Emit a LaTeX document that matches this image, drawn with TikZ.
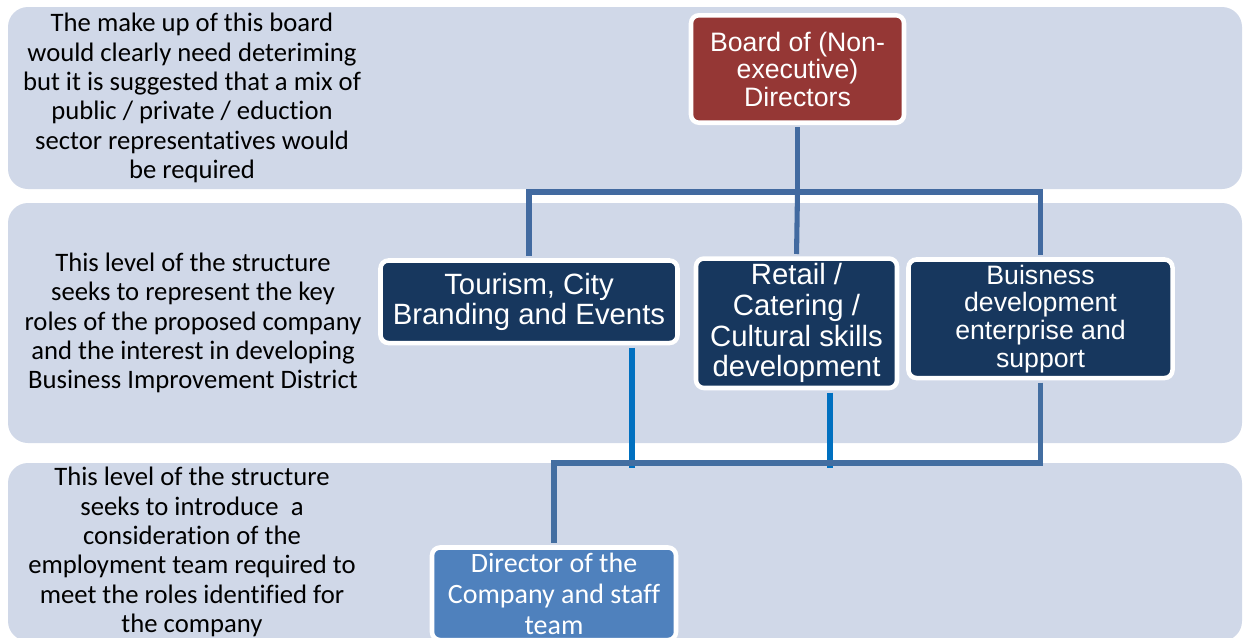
\documentclass[tikz,border=0pt]{standalone}
\usepackage{fontspec}
\setmainfont{Carlito}[Ligatures=NoCommon]
\newfontfamily\arialf{Liberation Sans}
\definecolor{bandc}{RGB}{208,216,232}
\definecolor{redc}{RGB}{149,55,53}
\definecolor{navyc}{RGB}{23,55,94}
\definecolor{dirc}{RGB}{79,129,189}
\definecolor{connc}{RGB}{66,106,160}
\definecolor{brightc}{RGB}{0,112,192}
\tikzset{
  band/.style={fill=bandc, rounded corners=15pt},
  lefttext/.style={align=center, inner sep=0pt, text=black, font=\fontsize{20}{22}\selectfont},
  box/.style={draw=white, line width=3.4pt, rounded corners=6pt, align=center, inner sep=0pt, text=white},
  conn/.style={draw=connc, line width=3.8pt},
  bright/.style={draw=brightc, line width=4.5pt},
}
\begin{document}
\begin{tikzpicture}[x=0.75pt,y=-0.75pt]
\useasboundingbox (0,0) rectangle (1248,637);
\clip (0,0) rectangle (1248,637);
\fill[white] (0,0) rectangle (1248,637);
% bands
\fill[band] (8,7) rectangle (1242,189);
\fill[band] (8,203) rectangle (1242,443);
\fill[band] (8,463) rectangle (1242,641);
% left texts
\node[lefttext] (t1) at (192,98) {The make up of this board\\would clearly need deteriming\\but it is suggested that a mix of\\public / private / eduction\\sector representatives would\\be required};
\node[lefttext] (t2) at (193,323) {This level of the structure\\seeks to represent the key\\roles of the proposed company\\and the interest in developing\\Business Improvement District};
\node[lefttext] (t3) at (192,552) {This level of the structure\\seeks to introduce\ \ a\\consideration of the\\employment team required to\\meet the roles identified for\\the company};
% nodes
\node[box, fill=redc, minimum width=159.75pt, minimum height=80.6pt, font=\arialf\fontsize{20}{20.6}\selectfont] (board) at (797.5,69) {Board of (Non-\\executive)\\Directors};
\node[box, fill=navyc, minimum width=222.75pt, minimum height=61.9pt, font=\arialf\fontsize{22}{22.5}\selectfont] (tour) at (529,301.75) {Tourism, City\\Branding and Events};
\node[box, fill=navyc, minimum width=150.75pt, minimum height=97.1pt, font=\arialf\fontsize{22}{23}\selectfont] (ret) at (796.5,323.25) {Retail /\\Catering /\\Cultural skills\\development};
\node[box, fill=navyc, minimum width=198pt, minimum height=88.9pt, font=\arialf\fontsize{20}{20.8}\selectfont] (bus) at (1040.5,318.75) {Buisness\\development\\enterprise and\\support};
\node[box, fill=dirc, minimum width=183pt, minimum height=69.4pt, font=\fontsize{21}{23.25}\selectfont] (dir) at (554,593.75) {Director of the\\Company and staff\\team};
% upper connectors
\coordinate (hubT) at (797.5,192);
\draw[conn, shorten <=1.7pt] (board.south) -- (hubT);
\draw[conn, shorten >=1.7pt] (hubT) -- (ret.north);
\draw[conn, shorten <=1.7pt, shorten >=1.7pt] (tour.north) |- (hubT) -| (bus.north);
% lower connectors
\coordinate (jT) at (632,468);
\coordinate (jR) at (830,468);
\coordinate (jB) at (554,463);
\draw[bright, shorten <=1.7pt] (jT |- tour.south) -- (jT);
\draw[bright, shorten <=1.7pt] (jR |- ret.south) -- (jR);
\draw[conn, draw=dirc!85!black, shorten <=1.7pt, shorten >=1.7pt] (bus.south) |- (jB) -- (dir.north);
\end{tikzpicture}
\end{document}
